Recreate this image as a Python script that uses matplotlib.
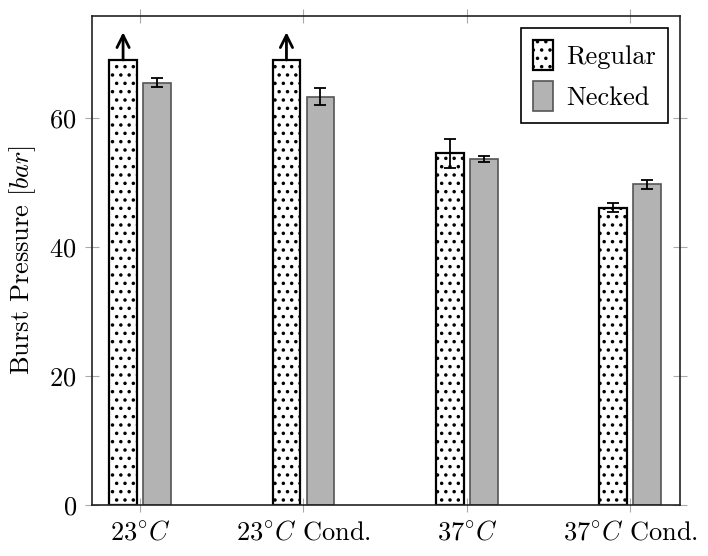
import numpy as np
import matplotlib
matplotlib.use("Agg")
from matplotlib import pyplot as plt

plt.rcParams["font.family"] = "serif"
plt.rcParams["font.serif"] = ["cmr10", "DejaVu Serif"]
plt.rcParams["mathtext.fontset"] = "cm"
plt.rcParams["axes.formatter.use_mathtext"] = True
plt.rcParams["hatch.linewidth"] = 1.3

groups = ["23$^{\\circ}C$", "23$^{\\circ}C$ Cond.", "37$^{\\circ}C$", "37$^{\\circ}C$ Cond."]
regular = [69.0, 69.0, 54.5, 46.1]
regular_err = [0.0, 0.0, 2.3, 0.7]
necked = [65.5, 63.3, 53.6, 49.7]
necked_err = [0.7, 1.3, 0.45, 0.75]
# regular samples that never burst within the test range (drawn with an arrow)
not_burst = [True, True, False, False]
arrow_top = 73.3


def plot_burst():
    fig = plt.figure(figsize=(7.08, 5.56), dpi=100)
    ax = fig.add_axes([0.130, 0.092, 0.830, 0.879])

    x = np.arange(len(groups))
    w = 0.17
    off = 0.104

    ax.bar(x - off, regular, w, facecolor="white", edgecolor="black",
           hatch="..", linewidth=1.6, label="Regular", zorder=2)
    ax.bar(x + off, necked, w, facecolor="#b3b3b3", edgecolor="#555555",
           linewidth=1.2, label="Necked", zorder=2)

    err_kw = dict(fmt="none", ecolor="black", elinewidth=1.3, capsize=4.5,
                  capthick=1.3, zorder=3)
    m = np.array(regular_err) > 0
    ax.errorbar((x - off)[m], np.array(regular)[m], yerr=np.array(regular_err)[m], **err_kw)
    ax.errorbar(x + off, necked, yerr=necked_err, **err_kw)

    for xi, yi, nb in zip(x - off, regular, not_burst):
        if nb:
            ax.annotate("", xy=(xi, arrow_top), xytext=(xi, yi),
                        arrowprops=dict(arrowstyle="->", lw=2.0, color="black",
                                        mutation_scale=22, shrinkA=0, shrinkB=0),
                        zorder=4)

    ax.set_xlim(-0.294, 3.303)
    ax.set_ylim(0, 75.8)
    ax.set_xticks(x)
    ax.set_xticklabels(groups, fontsize=19)
    ax.set_yticks([0, 20, 40, 60])
    ax.tick_params(axis="both", labelsize=19, direction="inout", length=10,
                   width=0.8, color="#aaaaaa", top=True, right=True, pad=6)
    ax.set_ylabel("Burst Pressure [$bar$]", fontsize=19, labelpad=8)

    for s in ax.spines.values():
        s.set_linewidth(1.2)
        s.set_color("#222222")

    leg = ax.legend(loc="upper right", fontsize=19, handlelength=0.75,
                    handleheight=1.4, handletextpad=0.5, borderpad=0.45,
                    labelspacing=0.4, fancybox=False, framealpha=1,
                    edgecolor="black", borderaxespad=0.45)
    leg.get_frame().set_linewidth(1.2)

    return fig


if __name__ == "__main__":
    fig = plot_burst()
    fig.savefig("out.png", dpi=100)
